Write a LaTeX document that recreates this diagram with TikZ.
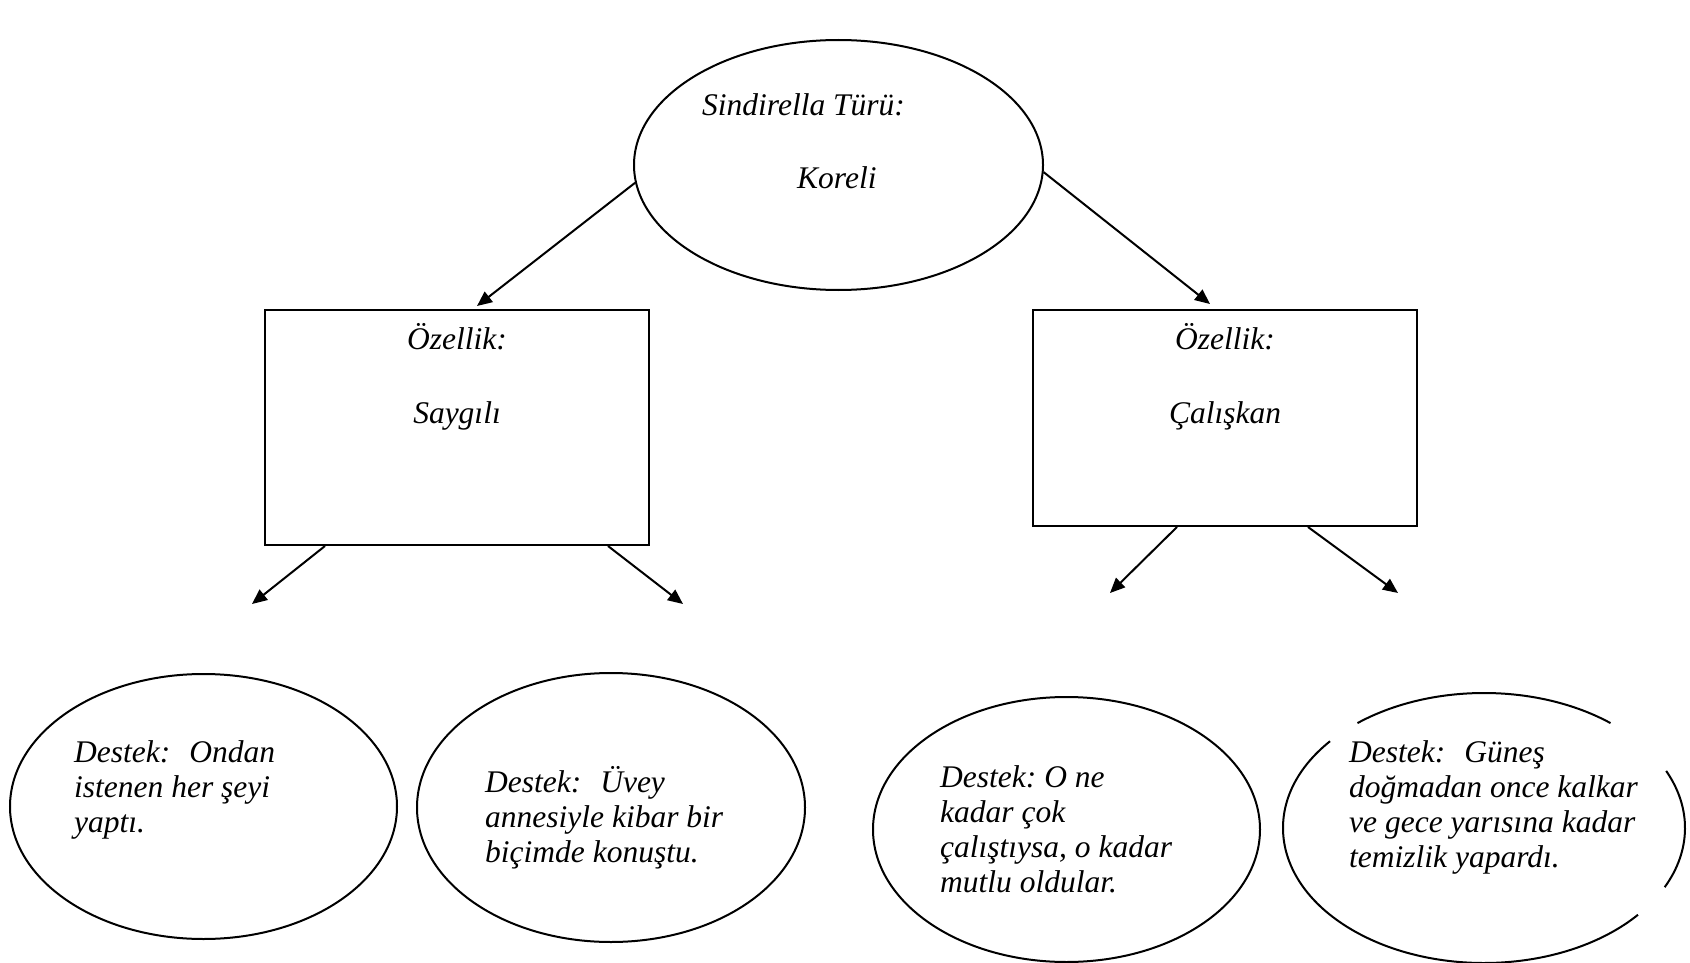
\documentclass[tikz,border=0pt]{standalone}
\usepackage{fontspec}
\setmainfont{Liberation Serif}
\usetikzlibrary{calc,shapes.geometric,arrows.meta}

\begin{document}
\begin{tikzpicture}[x=1pt,y=-1pt,
    cizgi/.style={line width=2pt},
    oval/.style={ellipse, draw, line width=2pt, minimum width=387pt, minimum height=265pt, inner sep=0pt},
    kutu/.style={rectangle, draw, line width=2pt, minimum width=384pt, inner sep=0pt},
    yazi/.style={font=\fontsize{31.5}{35}\selectfont\itshape\frenchspacing, inner sep=0pt},
    ok/.style={line width=2pt, -{Triangle[length=15pt,width=13pt]}}]
    \useasboundingbox [fill=white] (0,0) rectangle (1690,963);

    % tur
    \node [oval, minimum width=409pt, minimum height=250pt] (tur) at (838.5,165) {};
    \node [yazi, anchor=base west] (turbaslik) at (702,116) {Sindirella Türü:};
    \node [yazi, anchor=base west] (turadi) at (797,189) {Koreli};

    % ozellikler
    \node [kutu, minimum height=235pt] (saygili) at (457,427.5) {};
    \node [kutu, minimum height=216pt] (caliskan) at (1225,418) {};
    \node [yazi, anchor=base] (saygilibaslik) at ($(saygili.north)+(0,40)$) {Özellik:};
    \node [yazi, anchor=base] (saygiliadi) at ($(saygili.north)+(0,114)$) {Saygılı};
    \node [yazi, anchor=base] (caliskanbaslik) at ($(caliskan.north)+(0,40)$) {Özellik:};
    \node [yazi, anchor=base] (caliskanadi) at ($(caliskan.north)+(0,114)$) {Çalışkan};

    \draw [ok] (tur.185) -- ($(saygili.north)+(20,-3)$);
    \draw [ok] (tur.358) -- ($(caliskan.north)+(-15,-5)$);

    % destekler
    \node [oval, minimum width=387pt, minimum height=265pt] (destekA) at (203.5,806.5) {};
    \node [oval, minimum width=388pt, minimum height=269pt] (destekB) at (611,807.5) {};
    \node [oval, minimum width=387pt, minimum height=265pt] (destekC) at (1066.5,829.5) {};
    \node [oval, draw=none, minimum width=402pt, minimum height=270pt] (destekD) at (1484,828) {};
    \foreach \bas/\son in {51/129, 140/320, 334/385}
      \draw [cizgi] ([shift={(\bas:201pt and 135pt)}]destekD.center) arc[start angle=\bas, end angle=\son, x radius=201pt, y radius=135pt];

    \node [yazi, anchor=base west] (destekAyazi) at (74,762) {\begin{tabular}[t]{@{}l@{}}Destek:\ \hspace{11pt}Ondan\\ istenen her şeyi\\ yaptı.\end{tabular}};
    \node [yazi, anchor=base west] (destekByazi) at (485,792) {\begin{tabular}[t]{@{}l@{}}Destek:\ \hspace{11pt}Üvey\\ annesiyle kibar bir\\ biçimde konuştu.\end{tabular}};
    \node [yazi, anchor=base west] (destekCyazi) at (940,787) {\begin{tabular}[t]{@{}l@{}}Destek: O ne\\ kadar çok\\ çalıştıysa, o kadar\\ mutlu oldular.\end{tabular}};
    \node [yazi, anchor=base west] (destekDyazi) at (1349,762) {\begin{tabular}[t]{@{}l@{}}Destek:\ \hspace{11pt}Güneş\\ doğmadan once kalkar\\ ve gece yarısına kadar\\ temizlik yapardı.\end{tabular}};

    \coordinate (okA) at (252,604);
    \coordinate (okB) at (683,604);
    \coordinate (okC) at (1110,593);
    \coordinate (okD) at (1398,593);
    \draw [ok] ($(saygili.south)+(-132,0)$) -- (okA);
    \draw [ok] ($(saygili.south)+(151,0)$) -- (okB);
    \draw [ok] ($(caliskan.south)+(-48,0)$) -- (okC);
    \draw [ok] ($(caliskan.south)+(83,0)$) -- (okD);
\end{tikzpicture}
\end{document}
